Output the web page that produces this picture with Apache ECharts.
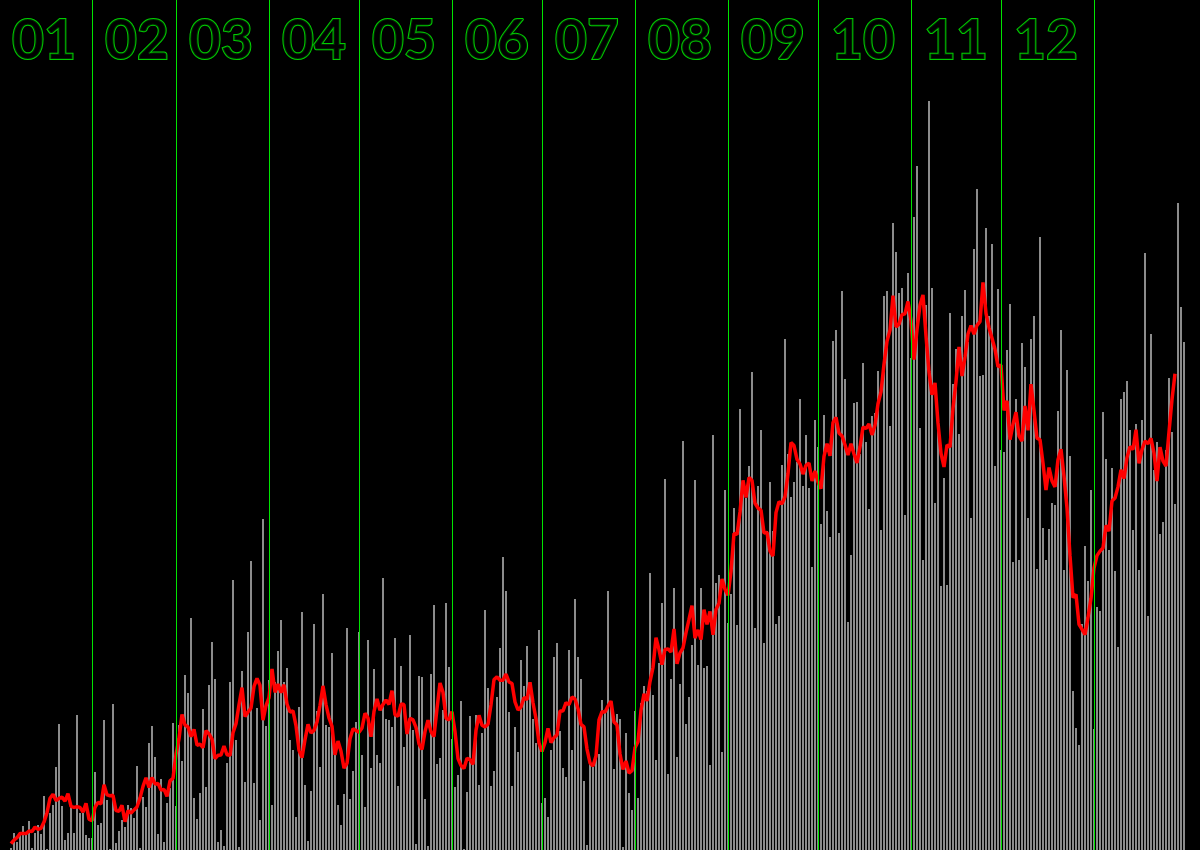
<!DOCTYPE html>
<html>
<head>
<meta charset="utf-8">
<script src="https://cdn.jsdelivr.net/npm/echarts/dist/echarts.min.js"></script>
<style>
html,body{margin:0;padding:0;background:#000;}
#chart{width:1200px;height:850px;}
</style>
</head>
<body>
<div id="chart"></div>
<script>
// ---- data ----
const monthNames = ['01','02','03','04','05','06','07','08','09','10','11','12'];
const monthLengths = [31,28,31,30,31,30,31,31,30,31,30,31];
const extraDaysNextYear = 30;   // days of the following January shown after the year
const maWindow = 7;             // centred moving average (red line)

// daily values (Jan 1 .. Dec 31, then Jan 1 .. Jan 30 of next year)
const dailyValues = [
  0,0,0,2,17,8,18,24,17,29,2,17,25,16,54,1,37,45,83,126,
  44,10,17,45,17,135,37,37,15,12,12,78,25,27,130,50,1,146,7,19,
  30,23,45,42,32,84,2,53,43,107,124,93,16,71,8,47,62,127,44,125,
  89,175,157,232,52,31,57,141,63,165,208,171,8,20,4,87,168,270,110,3,
  179,68,218,289,67,142,30,331,124,170,45,168,199,230,168,182,110,100,33,143,
  238,65,9,59,226,139,83,256,125,123,197,95,45,25,56,222,51,79,128,218,
  95,43,210,82,181,95,87,272,131,130,123,212,64,184,103,120,215,120,6,174,
  173,51,4,176,245,86,92,140,247,183,111,63,75,149,1,58,134,90,135,65,
  117,240,162,64,79,153,202,293,259,138,64,123,98,190,164,204,158,131,107,220,
  47,52,33,100,193,207,119,82,73,200,100,251,193,171,69,5,90,83,95,96,
  150,138,259,147,81,136,131,3,117,57,40,139,52,147,164,159,277,155,90,187,
  247,371,76,171,262,93,166,409,126,153,205,370,185,262,182,184,85,415,267,275,
  98,360,227,256,342,225,441,366,352,384,478,222,364,420,207,319,368,319,226,234,
  385,511,396,353,368,388,451,364,415,362,283,430,403,326,435,339,313,509,520,317,
  559,471,228,295,447,448,396,487,408,341,434,437,479,320,554,559,424,627,598,557,
  562,335,577,492,633,684,422,290,545,749,562,347,430,264,372,265,537,466,501,416,
  534,560,508,332,601,661,474,475,622,534,606,384,561,400,398,500,546,288,451,290,
  507,483,332,511,534,281,613,322,290,321,347,345,439,520,280,480,394,159,122,105,
  226,304,269,360,121,243,239,438,391,300,382,279,203,451,458,469,420,320,426,280,
  430,597,234,516,380,408,316,328,400,472,418,346,647,543,508
];

// ---- derived structures ----
const categories = [];
const monthStarts = [];
let dayIdx = 0;
monthLengths.forEach((len, m) => {
  monthStarts.push(dayIdx);
  for (let d = 1; d <= len; d++) { categories.push('Y1-' + monthNames[m] + '-' + String(d).padStart(2,'0')); dayIdx++; }
});
const yearEnd = dayIdx;
for (let d = 1; d <= extraDaysNextYear; d++) categories.push('Y2-01-' + String(d).padStart(2,'0'));

const boundaries = monthStarts.slice(1).concat([yearEnd]);

const half = Math.floor(maWindow / 2);
const maValues = dailyValues.map((v, i) => {
  if (i < half || i + half >= dailyValues.length) return null;
  let s = 0;
  for (let j = i - half; j <= i + half; j++) s += dailyValues[j];
  return +(s / maWindow).toFixed(1);
});

const GREEN = '#00e400';
const nDays = categories.length;
const labelPoints = monthNames.map((name, i) => ({ value: [monthStarts[i] + 14, 809], name: name }));

const chart = echarts.init(document.getElementById('chart'), null, { renderer: 'canvas' });
chart.setOption({
  backgroundColor: '#000000',
  animation: false,
  grid: { left: 0.5, width: nDays * 3, top: 0, height: 850, containLabel: false },
  xAxis: [
    {
      type: 'category',
      data: categories,
      boundaryGap: true,
      axisLine: { show: false },
      axisTick: { show: false },
      axisLabel: { show: false },
      splitLine: { show: false }
    },
    {
      type: 'value',
      min: 0,
      max: nDays,
      show: false,
      splitLine: { show: false }
    }
  ],
  yAxis: {
    type: 'value', min: 0, max: 850, show: false,
    splitLine: { show: false }
  },
  series: [
    {
      type: 'bar',
      data: dailyValues,
      barWidth: 2,
      itemStyle: { color: '#8c8c8c' },
      z: 2
    },
    {
      type: 'line',
      xAxisIndex: 1,
      data: [],
      silent: true,
      z: 3,
      markLine: {
        silent: true,
        symbol: ['none', 'none'],
        label: { show: false },
        lineStyle: { color: GREEN, width: 1, type: 'solid' },
        data: boundaries.map(d => ({ xAxis: d - 1 / 3 }))
      }
    },
    {
      type: 'line',
      data: maValues,
      symbol: 'none',
      connectNulls: false,
      lineStyle: { color: '#ff0000', width: 3.5 },
      z: 4
    },
    {
      type: 'scatter',
      data: labelPoints,
      symbolSize: 0,
      silent: true,
      z: 5,
      label: {
        show: true,
        position: 'inside',
        formatter: function (p) { return p.name; },
        fontFamily: 'Lato, "DejaVu Sans", sans-serif',
        fontWeight: 'bold',
        fontSize: 55,
        color: '#000000',
        textBorderColor: '#00ff00',
        textBorderWidth: 2
      }
    }
  ]
});
</script>
</body>
</html>
